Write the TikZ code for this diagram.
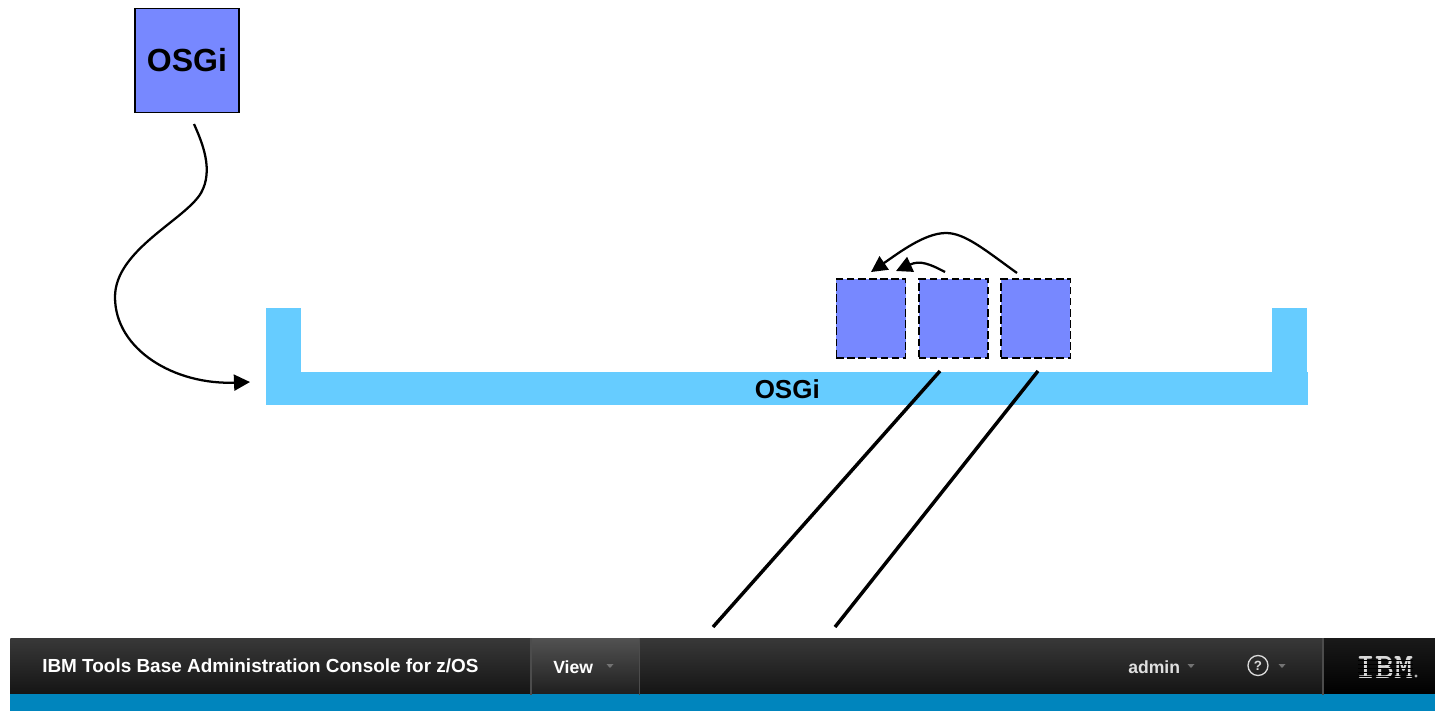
\documentclass[tikz,border=0pt]{standalone}
\usepackage{fontspec}
\setmainfont{Liberation Sans}
\usetikzlibrary{arrows.meta,positioning,calc}
\definecolor{bundleblue}{HTML}{7788FF}
\definecolor{platformblue}{HTML}{66CCFF}
\definecolor{bandblue}{HTML}{0085BD}

\begin{document}
\begin{tikzpicture}[
    x=0.75pt, y=-0.75pt,
    >={Triangle[length=12pt,width=12pt]},
    node distance=0pt and 8.6pt,
    bundle/.style={draw, fill=bundleblue, line width=1.2pt, minimum size=78pt, inner sep=0pt, font=\bfseries\fontsize{24}{24}\selectfont},
    part/.style={draw, dashed, dash pattern=on 5.5pt off 2.8pt, fill=bundleblue, line width=1.2pt, minimum width=52pt, minimum height=59pt, inner sep=0pt},
    post/.style={fill=platformblue, minimum width=26.25pt, minimum height=48pt, inner sep=0pt, anchor=north west},
    link/.style={line width=1.7pt},
    wire/.style={line width=2.6pt},
    barpart/.style={minimum height=42pt, inner sep=0pt, anchor=north west, top color=black!78, bottom color=black!92},
    label/.style={text=white, font=\bfseries\fontsize{14.2}{15}\selectfont, inner sep=0pt},
    smalllabel/.style={label, font=\bfseries\fontsize{13.2}{15}\selectfont},
]

% background and size
\path[use as bounding box] (0,0) rectangle (1435,711);

% platform
\node[post] (leftpost) at (266,308) {};
\node[post] (rightpost) at (1272,308) {};
\node[fill=platformblue, minimum width=781.5pt, minimum height=24.75pt, inner sep=0pt, anchor=north west, font=\bfseries\fontsize{19.5}{19}\selectfont] (platform) at (266,372) {OSGi};

% bundles
\node[bundle] (osgi) at (187,60.5) {OSGi};
\node[part] (partA) at (871,318.5) {};
\node[part, right=of partA] (partB) {};
\node[part, right=of partB] (partC) {};

% free ends of connectors
\coordinate (osgistart) at (194,124);
\coordinate (osgitip) at (250,382);
\coordinate (tipA) at (871,272);
\coordinate (tipB) at (896,271);
\coordinate (startB) at (945,272);
\coordinate (startC) at (1017,273);
\coordinate (wireAtop) at (940,371);
\coordinate (wireAend) at (713,627);
\coordinate (wireBtop) at (1038,371);
\coordinate (wireBend) at (835,627);

\draw[->, link] (osgistart) .. controls (202,142) and (214,170) .. (201,193)
    .. controls (185,220) and (115,250) .. (115,297)
    .. controls (115,350) and (175,385) .. (osgitip);
\draw[->, link] (startC) .. controls (985,250) and (965,233) .. (946,233)
    .. controls (925,233) and (900,252) .. (tipA);
\draw[->, link] (startB) .. controls (930,264) and (920,260) .. (tipB);
\draw[wire] (wireAtop) -- (wireAend);
\draw[wire] (wireBtop) -- (wireBend);

% console bar
\node[barpart, minimum width=390.75pt] (title) at (10,638) {};
\node[barpart, minimum width=81pt, top color=black!68, bottom color=black!88] (view) at (531,638) {};
\node[barpart, minimum width=513pt] (user) at (639,638) {};
\node[barpart, minimum width=84pt, top color=black!90, bottom color=black] (logo) at (1323,638) {};
\fill[bandblue] (10,694) rectangle (1435,711);
\draw[black!70, line width=0.9pt] (view.north west) -- (view.south west);
\draw[black!70, line width=0.9pt] (view.north east) -- (view.south east);
\draw[black!70, line width=0.9pt] (logo.north west) -- (logo.south west);

\node[label, anchor=west] (titletext) at (42,666) {IBM Tools Base Administration Console for z/OS};
\node[smalllabel, anchor=west] (viewtext) at (553,667) {View};
\node[smalllabel, anchor=west, text=black!12] (admintext) at (1128,667) {admin};
\node[draw=black!15, circle, line width=1pt, minimum size=15pt, inner sep=0pt, text=black!15, font=\bfseries\fontsize{10}{10}\selectfont] (help) at (1258,665.5) {?};
\node[anchor=center, text=black!15, inner sep=0pt, font=\ttfamily\bfseries\fontsize{27}{27}\selectfont] (ibm) at (1385,667) {IBM};
\foreach \cy in {660, 664, 668, 672, 676}
    \draw[black, line width=0.5pt] (1358,\cy) -- (1413,\cy);
\node[circle, fill=black!30, minimum size=2.5pt, inner sep=0pt] (ibmdot) at (1416,676) {};

% little carets
\foreach \cx in {610, 1191, 1282}
    \fill[black!55] (\cx-3.5,664) -- (\cx+3.5,664) -- (\cx,668) -- cycle;

\end{tikzpicture}
\end{document}
